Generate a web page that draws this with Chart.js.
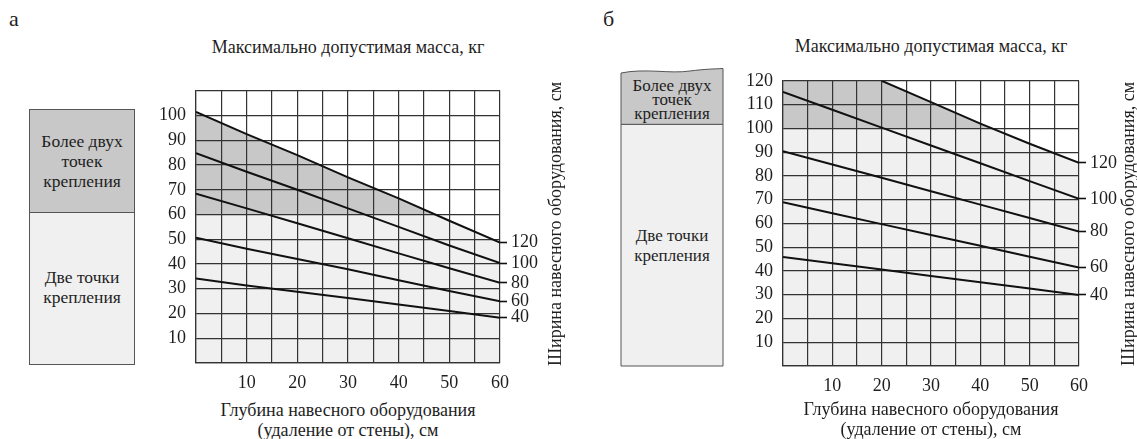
<!DOCTYPE html>
<html lang="ru">
<head>
<meta charset="utf-8">
<script src="https://cdn.jsdelivr.net/npm/chart.js@4/dist/chart.umd.min.js"></script>
<style>
    body { margin: 0; width: 1137px; height: 439px; background: #fff; position: relative; overflow: hidden;
           font-family: "Liberation Serif", "Times New Roman", serif; color: #1e1e1e; }
    .abs { position: absolute; }
    .letter { font-size: 22px; line-height: 22px; }
    .title { font-size: 18px; line-height: 20px; text-align: center; width: 400px; white-space: nowrap; }
    .vtitle { font-size: 18px; line-height: 20px; text-align: center; width: 320px; white-space: nowrap;
              transform: rotate(-90deg); }
    .boxtxt { font-size: 17.5px; text-align: center; width: 100%; }
</style>
</head>
<body>

<!-- а -->
<div class="abs letter" style="left:9px; top:8px">а</div>
<div class="abs title" style="left:148px; top:37px">Максимально допустимая масса, кг</div>
<div class="abs" style="left:29px; top:109px; width:104px; height:254px; border:1px solid #555; background:#f0f0f0">
    <div style="height:102px; background:#c8c8c8; border-bottom:1px solid #555; position:relative">
        <div class="boxtxt abs" style="top:21px; line-height:20px">Более двух<br>точек<br>крепления</div>
    </div>
    <div class="boxtxt abs" style="top:157px; line-height:20px">Две точки<br>крепления</div>
</div>
<canvas id="chartA" class="abs" width="420" height="330" style="left:135px; top:70px"></canvas>
<div class="abs vtitle" style="left:395px; top:214px">Ширина навесного оборудования, см</div>
<div class="abs title" style="left:148px; top:400px">Глубина навесного оборудования<br>(удаление от стены), см</div>

<!-- б -->
<div class="abs letter" style="left:603px; top:8px">б</div>
<div class="abs title" style="left:731px; top:36px">Максимально допустимая масса, кг</div>
<svg class="abs" style="left:610px; top:60px" width="120" height="310">
    <path d="M11,306 L11,64.3 L113,64.3 L113,306 Z" fill="#f0f0f0" stroke="#555" stroke-width="1"/>
    <path d="M11,64.3 L11,13 C35,8 60,14 80,11 C95,9 105,9 113,8.5 L113,64.3 Z" fill="#c8c8c8" stroke="#555" stroke-width="1"/>
    <g font-size="17" fill="#1e1e1e" text-anchor="middle">
        <text x="62" y="31">Более двух</text>
        <text x="62" y="45">точек</text>
        <text x="62" y="59">крепления</text>
        <text x="62" y="181">Две точки</text>
        <text x="62" y="201">крепления</text>
    </g>
</svg>
<canvas id="chartB" class="abs" width="417" height="340" style="left:720px; top:60px"></canvas>
<div class="abs vtitle" style="left:968px; top:214px">Ширина навесного оборудования, см</div>
<div class="abs title" style="left:731px; top:399px">Глубина навесного оборудования<br>(удаление от стены), см</div>

<script>
// глубина, см (ось X)
const depth = [0, 10, 20, 30, 40, 50, 60];
// ширина оборудования, см — подписи линий справа
const widthLabels = ['120', '100', '80', '60', '40'];
const xTickLabels = [10, 20, 30, 40, 50, 60];
const yTickLabelsA = [10, 20, 30, 40, 50, 60, 70, 80, 90, 100];
const yTickLabelsB = [10, 20, 30, 40, 50, 60, 70, 80, 90, 100, 110, 120];

// а: масса, кг
const a120 = [101.5, 92.5, 84, 75, 66.5, 57.5, 48.7];
const a100 = [84.8, 77.3, 70, 62.5, 55, 47.5, 40.4];
const a80 = [68.4, 62.5, 56.5, 50.4, 44.3, 38.3, 32.4];
const a60 = [50.6, 46.2, 42, 37.9, 33.4, 29.1, 24.9];
const a40 = [34.2, 31.3, 28.8, 26.3, 23.6, 21, 18.3];
const aZone = 60;   // выше — более двух точек крепления

// б: масса, кг
const b120 = [null, null, 120, 111, 102, 93.5, 85.5];
const b100 = [115.3, 107.8, 100.3, 92.8, 85.3, 77.8, 70.3];
const b80 = [90.4, 84.8, 79.2, 73.5, 67.9, 62.3, 56.6];
const b60 = [68.9, 64.3, 59.7, 55.1, 50.6, 46, 41.4];
const b40 = [45.9, 43.2, 40.6, 37.9, 35.2, 32.6, 29.9];
const bTop = [120, 120, 120, 111, 102, 93.5, 85.5];
const bZone = 100;

const font = { family: '"Liberation Serif", "Times New Roman", serif', size: 18 };
const txt = '#1e1e1e';
const gridCol = '#333';

function pts(ys) {
    return depth.map(function(x, i) { return { x: x, y: ys[i] }; })
                .filter(function(p) { return p.y !== null; });
}

function makeChart(id, o) {
    var ends = o.series.map(function(ys) { return ys[ys.length - 1]; });
    var sets = o.series.map(function(ys) {
        return { data: pts(ys), borderColor: '#111', borderWidth: 2, pointRadius: 0, fill: false };
    });
    // заливки: тёмная — выше границы зоны, светлая — под верхней линией
    sets.push({ data: pts(o.top), borderColor: 'rgba(0,0,0,0)', borderWidth: 0, pointRadius: 0,
                fill: { target: { value: o.zone }, above: '#c8c8c8', below: 'rgba(0,0,0,0)' } });
    sets.push({ data: pts(o.top), borderColor: 'rgba(0,0,0,0)', borderWidth: 0, pointRadius: 0,
                fill: 'origin', backgroundColor: '#f0f0f0' });

    return new Chart(document.getElementById(id), {
        type: 'line',
        data: { datasets: sets },
        options: {
            responsive: false,
            animation: false,
            events: [],
            layout: { padding: { top: o.padTop, left: 0, right: 0, bottom: 0 } },
            plugins: {
                legend: { display: false },
                tooltip: { enabled: false },
                filler: { drawTime: 'beforeDraw' }
            },
            scales: {
                x: {
                    type: 'linear', min: 0, max: 60,
                    afterFit: function(s) { s.height = o.bottom; },
                    ticks: { stepSize: 5, autoSkip: false, maxRotation: 0, padding: 9, color: txt, font: font,
                             callback: function(v) { return xTickLabels.includes(v) ? v : ''; } },
                    grid: { color: gridCol, lineWidth: 1.2, drawTicks: false },
                    border: { color: gridCol, width: 1.2 }
                },
                y: {
                    min: 0, max: o.max,
                    afterFit: function(s) { s.width = o.left; },
                    ticks: { stepSize: 10, autoSkip: false, padding: 10, color: txt, font: font,
                             callback: function(v) { return o.yTicks.includes(v) ? v : ''; } },
                    grid: { color: gridCol, lineWidth: 1.2, drawTicks: false },
                    border: { color: gridCol, width: 1.2 }
                },
                y2: {
                    position: 'right', min: 0, max: o.max,
                    afterFit: function(s) { s.width = o.right; },
                    afterBuildTicks: function(s) { s.ticks = ends.map(function(v) { return { value: v }; }); },
                    ticks: { autoSkip: false, padding: 4, color: txt, font: font,
                             callback: function(v, i) { return widthLabels[i]; } },
                    grid: { drawOnChartArea: false, tickLength: 7, tickColor: '#111', tickWidth: 1.6 },
                    border: { display: false }
                }
            }
        }
    });
}

makeChart('chartA', { series: [a120, a100, a80, a60, a40], top: a120, zone: aZone, max: 110,
                      yTicks: yTickLabelsA, padTop: 14, left: 61, right: 55, bottom: 37 });
makeChart('chartB', { series: [b120, b100, b80, b60, b40], top: bTop, zone: bZone, max: 120,
                      yTicks: yTickLabelsB, padTop: 15, left: 63, right: 58, bottom: 34 });
</script>
</body>
</html>
